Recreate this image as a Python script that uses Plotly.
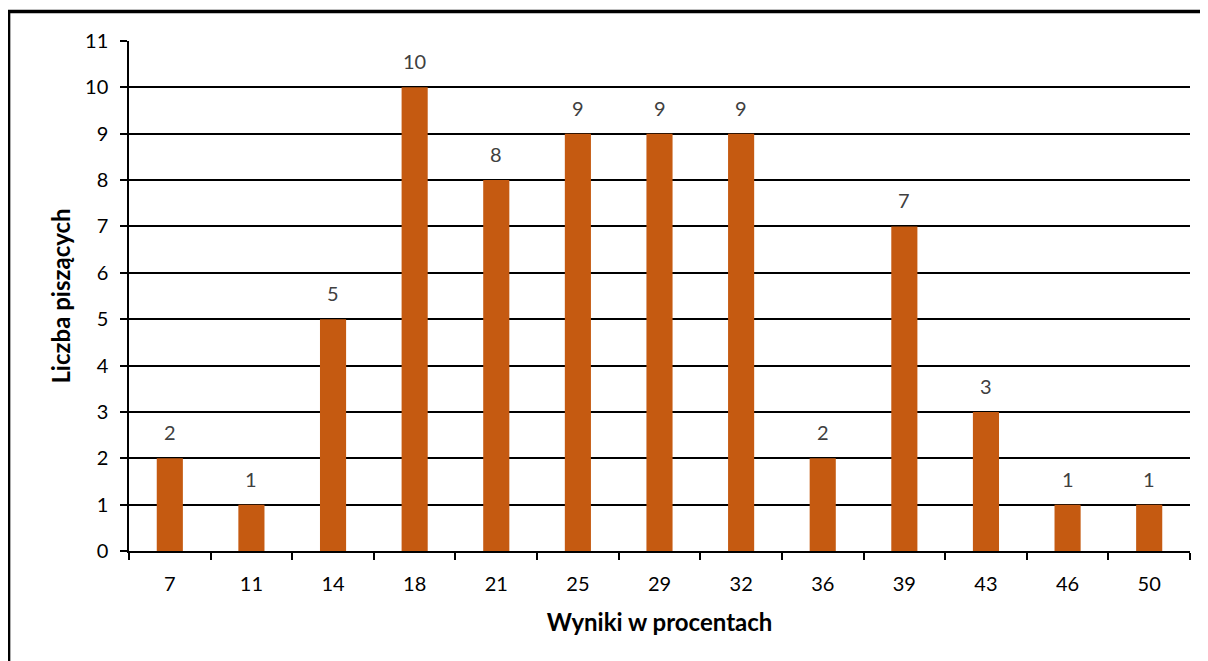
import plotly.graph_objects as go

categories = ["7", "11", "14", "18", "21", "25", "29", "32", "36", "39", "43", "46", "50"]
counts = [2, 1, 5, 10, 8, 9, 9, 9, 2, 7, 3, 1, 1]
y_ticks = list(range(0, 12))

FONT = "Lato, Carlito, Calibri, sans-serif"

fig = go.Figure(go.Bar(
    x=categories, y=counts,
    marker=dict(color="#C55A11", line=dict(width=0)),
))

for i, v in enumerate(counts):
    fig.add_annotation(x=i, y=v, text=str(v), showarrow=False,
                       xref="x", yref="y",
                       yanchor="middle", yshift=26,
                       font=dict(family=FONT, size=20, color="#404040"))

fig.update_layout(
    width=1208, height=661,
    margin=dict(l=121, r=26, t=33, b=118),
    paper_bgcolor="white", plot_bgcolor="white",
    bargap=0.68,
    showlegend=False,
    font=dict(family=FONT, size=20, color="black"),
    xaxis=dict(
        type="category",
        range=[-0.5, len(categories) - 0.5],
        showline=True, linecolor="black", linewidth=1.5,
        ticks="outside", tickson="boundaries", ticklen=7, tickcolor="black", tickwidth=1.5,
        tickfont=dict(size=20, family=FONT),
        tickangle=0,
        ticklabelstandoff=14,
        title=dict(text="<b>Wyniki w procentach</b>", font=dict(size=24, family=FONT), standoff=20),
        showgrid=False,
    ),
    yaxis=dict(
        range=[0, 11], tickvals=y_ticks,
        showline=True, linecolor="black", linewidth=1.5,
        ticks="outside", ticklen=7, tickcolor="black", tickwidth=1.5,
        ticklabelstandoff=8,
        showgrid=True, gridcolor="black", gridwidth=1.5,
        zeroline=False,
        tickfont=dict(size=20, family=FONT),
        title=dict(text="<b>Liczba piszących</b>", font=dict(size=24, family=FONT), standoff=8),
    ),
    shapes=[dict(type="rect", xref="paper", yref="paper",
                 x0=-0.1135, x1=1.2, y0=-0.4, y1=1.058,
                 line=dict(color="black", width=3.5), fillcolor="rgba(0,0,0,0)", layer="below")],
)

fig.write_html("out.html")
